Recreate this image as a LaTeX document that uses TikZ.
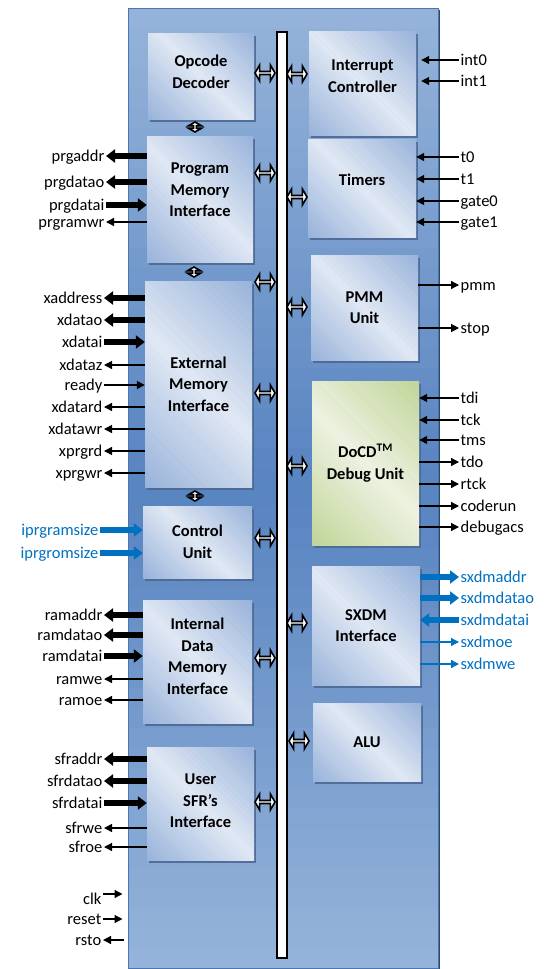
\documentclass[tikz,border=0pt]{standalone}
\usepackage{fontspec}
\setmainfont{Carlito}
\usepackage{xcolor}
\usetikzlibrary{arrows.meta,positioning,shapes.arrows,shadows,calc}
\definecolor{corehi}{HTML}{96B4DA}
\definecolor{corelo}{HTML}{5783C0}
\definecolor{coreedge}{HTML}{4A76B4}
\definecolor{blkhi}{HTML}{E0E8F4}
\definecolor{blklo}{HTML}{98B3DA}
\definecolor{blkshade}{HTML}{4C6994}
\definecolor{dbghi}{HTML}{EDF2E2}
\definecolor{dbglo}{HTML}{C1D598}
\definecolor{sigblue}{HTML}{0070C0}

\begin{document}
\begin{tikzpicture}[
    x=1pt, y=-1pt,
    font=\fontsize{16.5}{21.5}\selectfont,
    vgrad/.style 2 args={path picture={
        \foreach \i in {0,...,47}{
          \pgfmathtruncatemacro\mix{100*(1-abs(2*(\i+0.5)/48-1))}
          \fill[#2!\mix!#1] let \p1=(path picture bounding box.south west), \p2=(path picture bounding box.north east),
            \n1={(\y2-\y1)/48} in
            ({\x1-1pt},{\y2-\i*\n1*1pt+0.3pt}) rectangle ({\x2+1pt},{\y2-(\i+1)*\n1*1pt-0.3pt});
        }}},
    dgrad/.style 2 args={path picture={
        \foreach \i in {0,...,35}{
          \pgfmathtruncatemacro\mix{100*(1-abs(2*(\i+0.5)/36-1))}
          \fill[#2!\mix!#1] let \p1=(path picture bounding box.south west), \p2=(path picture bounding box.north east),
            \n1={(\x2-\x1+\y2-\y1)/36} in
            ({\x1+\i*\n1*1pt+400pt},{\y1-400pt}) -- ({\x1+(\i+1)*\n1*1pt+400.6pt},{\y1-400pt})
            -- ({\x1+(\i+1)*\n1*1pt-399.4pt},{\y1+400pt}) -- ({\x1+\i*\n1*1pt-400pt},{\y1+400pt}) -- cycle;
        }}},
    core/.style={draw=coreedge, line width=1pt, vgrad={corehi}{corelo},
                 drop shadow={shadow xshift=2pt, shadow yshift=-2pt, fill=coreedge!60!black, opacity=1}},
    blkbase/.style={align=center, inner sep=0pt, font=\fontsize{16.5}{21.5}\selectfont\bfseries,
                drop shadow={shadow xshift=2pt, shadow yshift=-3pt, fill=blkshade, opacity=0.9}},
    blk/.style={blkbase, dgrad={blklo}{blkhi}},
    dbg/.style={blkbase, dgrad={dbglo}{dbghi}},
    bus/.style={draw, fill=white, line width=1.4pt, minimum width=10pt, minimum height=926pt, inner sep=0pt},
    link/.style={double arrow, draw, fill=white, line width=1.6pt, minimum height=20pt, minimum width=16pt,
                 inner sep=0pt, double arrow head extend=3.5pt, double arrow tip angle=120},
    vlink/.style={link, minimum height=10pt, minimum width=13pt, double arrow head extend=3pt, shape border rotate=90},
    lbl/.style={inner sep=1.5pt, text height=11pt, text depth=0pt},
    lblL/.style={lbl, anchor=east},
    lblR/.style={lbl, anchor=west},
    bluelbl/.style={text=sigblue},
    wide/.style={line width=5.5pt, -{Triangle[length=9pt,width=13pt]}},
    sig/.style={line width=1.3pt, -{Triangle[length=8pt,width=8pt]}},
    bl/.style={draw=sigblue}
  ]
  \useasboundingbox (0,0) rectangle (549,969);

  % core and internal bus
  \node[core, minimum width=310pt, minimum height=960pt] (core) at (283,488) {};
  \node[bus] (bus) at (282,495) {};

  % left column
  \node[blk, minimum width=106pt, minimum height=86pt, text depth=9pt] (opdec) at (201,76) {Opcode\\Decoder};
  \node[blk, minimum width=106pt, minimum height=126pt, text depth=18pt] (pgmif) at (200,199) {Program\\Memory\\Interface};
  \node[blk, minimum width=107pt, minimum height=206pt] (extif) at (198.5,384) {External\\Memory\\Interface};
  \node[blk, minimum width=109pt, minimum height=72pt] (ctrl) at (197.5,542) {Control\\Unit};
  \node[blk, minimum width=109pt, minimum height=123pt, text depth=11pt] (idmif) at (197.5,661.5) {Internal\\Data\\Memory\\Interface};
  \node[blk, minimum width=107pt, minimum height=113pt, text depth=5pt] (sfrif) at (200.5,803.5) {User\\SFR’s\\Interface};

  % right column
  \node[blk, minimum width=107pt, minimum height=104pt, text depth=14pt] (intctl) at (362.5,83) {Interrupt\\Controller};
  \node[blk, minimum width=108pt, minimum height=98pt, text depth=16pt] (timers) at (362,188) {Timers};
  \node[blk, minimum width=107pt, minimum height=105pt] (pmmunit) at (364.5,307.5) {PMM\\Unit};
  \node[dbg, minimum width=107pt, minimum height=164pt] (docd) at (365.5,463) {DoCD\textsuperscript{TM}\\Debug Unit};
  \node[blk, minimum width=108pt, minimum height=119pt] (sxdmif) at (366,625.5) {SXDM\\Interface};
  \node[blk, minimum width=108pt, minimum height=78pt] (alu) at (367,742) {ALU};

  % bus links
  \node[link] (l1) at (265,73) {};
  \node[link] (l2) at (265,173) {};
  \node[link] (l3) at (265,282) {};
  \node[link] (l4) at (265,393) {};
  \node[link] (l5) at (265,538) {};
  \node[link] (l6) at (265,658) {};
  \node[link] (l7) at (265,802) {};
  \node[link] (r1) at (297,74) {};
  \node[link] (r2) at (297,197) {};
  \node[link] (r3) at (297,307) {};
  \node[link] (r4) at (297,466) {};
  \node[link] (r5) at (297,623) {};
  \node[link] (r6) at (299,741) {};
  \node[vlink] (v1) at (195,127) {};
  \node[vlink] (v2) at (194,272) {};
  \node[vlink] (v3) at (195,496) {};

  % program memory port
  \node[lblL] (prgaddr) at (106,156) {prgaddr}; \draw[wide] (pgmif.west |- prgaddr.east) -- (prgaddr.east);
  \node[lblL] (prgdatao) at (106,182) {prgdatao}; \draw[wide] (pgmif.west |- prgdatao.east) -- (prgdatao.east);
  \node[lblL] (prgdatai) at (106,205) {prgdatai}; \draw[wide] (prgdatai.east) -- (pgmif.west |- prgdatai.east);
  \node[lblL] (prgramwr) at (106,222) {prgramwr}; \draw[sig] (pgmif.west |- prgramwr.east) -- (prgramwr.east);

  % external memory port
  \node[lblL] (xaddress) at (104,298) {xaddress}; \draw[wide] (extif.west |- xaddress.east) -- (xaddress.east);
  \node[lblL] (xdatao) at (104,320) {xdatao}; \draw[wide] (extif.west |- xdatao.east) -- (xdatao.east);
  \node[lblL] (xdatai) at (104,342) {xdatai}; \draw[wide] (xdatai.east) -- (extif.west |- xdatai.east);
  \node[lblL] (xdataz) at (104,365) {xdataz}; \draw[sig] (extif.west |- xdataz.east) -- (xdataz.east);
  \node[lblL] (ready) at (104,385) {ready}; \draw[sig] (ready.east) -- (extif.west |- ready.east);
  \node[lblL] (xdatard) at (104,407) {xdatard}; \draw[sig] (extif.west |- xdatard.east) -- (xdatard.east);
  \node[lblL] (xdatawr) at (104,429) {xdatawr}; \draw[sig] (extif.west |- xdatawr.east) -- (xdatawr.east);
  \node[lblL] (xprgrd) at (104,451) {xprgrd}; \draw[sig] (extif.west |- xprgrd.east) -- (xprgrd.east);
  \node[lblL] (xprgwr) at (104,473) {xprgwr}; \draw[sig] (extif.west |- xprgwr.east) -- (xprgwr.east);

  % configuration inputs
  \node[lblL, bluelbl] (iprgramsize) at (100,530) {iprgramsize}; \draw[wide, bl] (iprgramsize.east) -- (ctrl.west |- iprgramsize.east);
  \node[lblL, bluelbl] (iprgromsize) at (100,553) {iprgromsize}; \draw[wide, bl] (iprgromsize.east) -- (ctrl.west |- iprgromsize.east);

  % internal data memory port
  \node[lblL] (ramaddr) at (104,615) {ramaddr}; \draw[wide] (idmif.west |- ramaddr.east) -- (ramaddr.east);
  \node[lblL] (ramdatao) at (104,635) {ramdatao}; \draw[wide] (idmif.west |- ramdatao.east) -- (ramdatao.east);
  \node[lblL] (ramdatai) at (104,656) {ramdatai}; \draw[wide] (ramdatai.east) -- (idmif.west |- ramdatai.east);
  \node[lblL] (ramwe) at (104,679) {ramwe}; \draw[sig] (idmif.west |- ramwe.east) -- (ramwe.east);
  \node[lblL] (ramoe) at (104,700) {ramoe}; \draw[sig] (idmif.west |- ramoe.east) -- (ramoe.east);

  % user SFR port
  \node[lblL] (sfraddr) at (104,759) {sfraddr}; \draw[wide] (sfrif.west |- sfraddr.east) -- (sfraddr.east);
  \node[lblL] (sfrdatao) at (104,781) {sfrdatao}; \draw[wide] (sfrif.west |- sfrdatao.east) -- (sfrdatao.east);
  \node[lblL] (sfrdatai) at (104,803) {sfrdatai}; \draw[wide] (sfrdatai.east) -- (sfrif.west |- sfrdatai.east);
  \node[lblL] (sfrwe) at (104,828) {sfrwe}; \draw[sig] (sfrif.west |- sfrwe.east) -- (sfrwe.east);
  \node[lblL] (sfroe) at (104,847) {sfroe}; \draw[sig] (sfrif.west |- sfroe.east) -- (sfroe.east);

  % clock and reset
  \node[lblL] (clk) at (103,899) {clk}; \draw[sig, shorten >=5pt] ($(clk.east)+(0,-5)$) -- ($(clk.east -| core.west)+(0,-5)$);
  \node[lblL] (reset) at (103,919) {reset}; \draw[sig, shorten >=5pt] (reset.east) -- (core.west |- reset.east);
  \node[lblL] (rsto) at (103,940) {rsto}; \draw[sig, shorten <=4pt] (core.west |- rsto.east) -- (rsto.east);

  % interrupts and timers
  \node[lblR] (int0) at (459,60) {int0}; \draw[sig, shorten >=5pt] (int0.west) -- (intctl.east |- int0.west);
  \node[lblR] (int1) at (459,81) {int1}; \draw[sig, shorten >=5pt] (int1.west) -- (intctl.east |- int1.west);
  \node[lblR] (t0) at (459,157) {t0}; \draw[sig] (t0.west) -- (timers.east |- t0.west);
  \node[lblR] (t1) at (459,179) {t1}; \draw[sig] (t1.west) -- (timers.east |- t1.west);
  \node[lblR] (gate0) at (459,201) {gate0}; \draw[sig] (gate0.west) -- (timers.east |- gate0.west);
  \node[lblR] (gate1) at (459,222) {gate1}; \draw[sig] (gate1.west) -- (timers.east |- gate1.west);

  % power management
  \node[lblR] (pmm) at (459,285) {pmm}; \draw[sig] (pmmunit.east |- pmm.west) -- (pmm.west);
  \node[lblR] (stop) at (459,328) {stop}; \draw[sig] (pmmunit.east |- stop.west) -- (stop.west);

  % debug port
  \node[lblR] (tdi) at (459,398) {tdi}; \draw[sig] (tdi.west) -- (docd.east |- tdi.west);
  \node[lblR] (tck) at (459,420) {tck}; \draw[sig] (tck.west) -- (docd.east |- tck.west);
  \node[lblR] (tms) at (459,440) {tms}; \draw[sig] (tms.west) -- (docd.east |- tms.west);
  \node[lblR] (tdo) at (459,462) {tdo}; \draw[sig] (docd.east |- tdo.west) -- (tdo.west);
  \node[lblR] (rtck) at (459,484) {rtck}; \draw[sig] (docd.east |- rtck.west) -- (rtck.west);
  \node[lblR] (coderun) at (459,506) {coderun}; \draw[sig] (docd.east |- coderun.west) -- (coderun.west);
  \node[lblR] (debugacs) at (459,527) {debugacs}; \draw[sig] (docd.east |- debugacs.west) -- (debugacs.west);

  % SXDM port
  \node[lblR, bluelbl] (sxdmaddr) at (459,577) {sxdmaddr}; \draw[wide, bl] (sxdmif.east |- sxdmaddr.west) -- (sxdmaddr.west);
  \node[lblR, bluelbl] (sxdmdatao) at (459,598) {sxdmdatao}; \draw[wide, bl] (sxdmif.east |- sxdmdatao.west) -- (sxdmdatao.west);
  \node[lblR, bluelbl] (sxdmdatai) at (459,620) {sxdmdatai}; \draw[wide, bl] (sxdmdatai.west) -- (sxdmif.east |- sxdmdatai.west);
  \node[lblR, bluelbl] (sxdmoe) at (459,642) {sxdmoe}; \draw[sig, bl] (sxdmif.east |- sxdmoe.west) -- (sxdmoe.west);
  \node[lblR, bluelbl] (sxdmwe) at (459,664) {sxdmwe}; \draw[sig, bl] (sxdmif.east |- sxdmwe.west) -- (sxdmwe.west);
\end{tikzpicture}
\end{document}
